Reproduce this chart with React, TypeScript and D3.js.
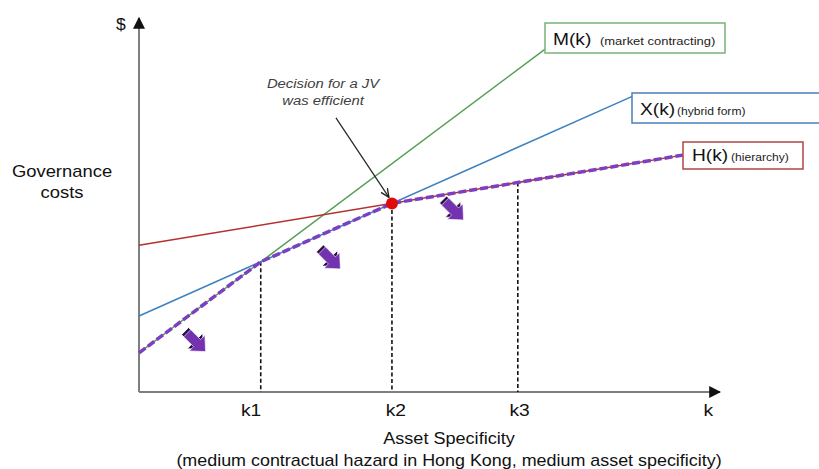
import * as d3 from "d3";

// cost curves: value at k=0 and at the end of each drawn line (x in asset-specificity units)
const curveNames = ["M", "X", "H"];
const curveStart = [1.04, 2.02, 3.9];
const curveEndX = [6.99, 8.5, 9.36];
const curveEndY = [9.12, 7.87, 6.3];

const k3Value = 6.52;
const tickLabels = ["k1", "k2", "k3", "k"];
const tickAt = [1.93, 4.42, 6.55, 9.8];

// purple "shift down" arrows
const shiftX = [1.0, 3.32, 5.44];
const shiftY = [1.3, 3.5, 4.8];

const note = ["Decision for a JV", "was efficient"];
const noteFrom = [3.39, 7.29];

const W = 819;
const H = 469;
const FONT = "Liberation Sans, Arial, sans-serif";

// text that is a little wider than the font, like the original slide
function T({ x, y, size, sx = 1.15, anchor = "start", children, italic = false, fill = "#111" }: any) {
  return (
    <g transform={`translate(${x},${y}) scale(${sx},1)`}>
      <text textAnchor={anchor} fontSize={size} fontStyle={italic ? "italic" : "normal"} fill={fill}>
        {children}
      </text>
    </g>
  );
}

export default function App() {
  const x = d3.scaleLinear([0, 10], [139, 720]);
  const y = d3.scaleLinear([0, 10], [392, 16]);

  const slope = curveNames.map((_, i) => (curveEndY[i] - curveStart[i]) / curveEndX[i]);
  const val = (i: number, k: number) => curveStart[i] + slope[i] * k;
  const k1 = (curveStart[1] - curveStart[0]) / (slope[0] - slope[1]);
  const k2 = (curveStart[2] - curveStart[1]) / (slope[1] - slope[2]);

  const line = d3.line<[number, number]>().x((d) => x(d[0])).y((d) => y(d[1]));

  const colors = ["#559e55", "#3f80be", "#b3312f"];
  const envelope: [number, number][] = [
    [0, val(0, 0)],
    [k1, val(0, k1)],
    [k2, val(1, k2)],
    [curveEndX[2], val(2, curveEndX[2])],
  ];

  const arrowPath = "M-14,-5 L0,-5 L0,-11 L12,0 L0,11 L0,5 L-14,5 Z";

  const dot = [x(k2), y(val(1, k2))];
  const nf = [x(noteFrom[0]), y(noteFrom[1])];

  return (
    <svg width={W} height={H} style={{ position: "absolute", left: 0, top: 0 }} fontFamily={FONT}>
      <defs>
        <marker id="ah" viewBox="0 0 10 10" refX="9" refY="5" markerWidth="6" markerHeight="6" orient="auto">
          <path d="M0,0 L10,5 L0,10 Z" fill="#111" />
        </marker>
        <marker id="nh" viewBox="0 0 10 10" refX="9" refY="5" markerWidth="8" markerHeight="8" orient="auto">
          <path d="M0,1 L9,5 L0,9" fill="none" stroke="#222" strokeWidth="1.4" />
        </marker>
      </defs>
      <rect width={W} height={H} fill="#fff" />

      {/* axes */}
      <line x1={x(0)} y1={y(0)} x2={x(0)} y2={y(10) + 2} stroke="#7f7f7f" strokeWidth={2} markerEnd="url(#ah)" />
      <line x1={x(0)} y1={y(0)} x2={x(10)} y2={y(0)} stroke="#7f7f7f" strokeWidth={2} markerEnd="url(#ah)" />

      {/* dashed drop lines */}
      {[k1, k2, k3Value].map((k, i) => (
        <line
          key={i}
          x1={x(k)}
          x2={x(k)}
          y1={y(val(i, k))}
          y2={y(0)}
          stroke="#111"
          strokeWidth={1.6}
          strokeDasharray="4,2.5"
        />
      ))}

      {/* curves */}
      {curveNames.map((n, i) => (
        <path
          key={n}
          d={line([
            [0, curveStart[i]],
            [curveEndX[i], curveEndY[i]],
          ]) ?? ""}
          stroke={colors[i]}
          strokeWidth={1.5}
          fill="none"
        />
      ))}

      {/* efficient envelope */}
      <path d={line(envelope) ?? ""} stroke="#7b3fbf" strokeWidth={3.5} strokeDasharray="8,3" fill="none" />

      {/* shift arrows */}
      {shiftX.map((sx, i) => (
        <g key={i} transform={`translate(${x(sx)},${y(shiftY[i])}) rotate(45)`}>
          <path d={arrowPath} transform="translate(-3,0)" fill="#2a0d45" stroke="#fff" strokeWidth={0.8} />
          <path d={arrowPath} fill="#7332b0" stroke="#fff" strokeWidth={0.6} />
        </g>
      ))}

      {/* annotation */}
      <line x1={nf[0]} y1={nf[1]} x2={dot[0] - 3} y2={dot[1] - 6} stroke="#222" strokeWidth={1.2} markerEnd="url(#nh)" />
      <circle cx={dot[0]} cy={dot[1]} r={6} fill="#e00a0a" />
      {note.map((t, i) => (
        <T key={i} x={323} y={88 + i * 17} size={13.5} sx={1.1} anchor="middle" italic fill="#404040">
          {t}
        </T>
      ))}

      {/* label boxes */}
      <g>
        <rect x={545} y={23} width={180} height={30} fill="#fff" stroke="#79b279" strokeWidth={1.5} />
        <T x={553} y={45} size={16} sx={1.2}>M(k)</T>
        <T x={600} y={45} size={11} sx={1.18} fill="#222">(market contracting)</T>
      </g>
      <g>
        <rect x={632} y={93} width={190} height={30} fill="#fff" stroke="#4a7ebb" strokeWidth={1.5} />
        <T x={640} y={115} size={16} sx={1.2}>X(k)</T>
        <T x={677} y={115} size={11} sx={1.1} fill="#222">(hybrid form)</T>
      </g>
      <g>
        <rect x={683} y={142} width={120} height={27} fill="#fff" stroke="#b04545" strokeWidth={1.5} />
        <T x={692} y={161} size={16} sx={1.2}>H(k)</T>
        <T x={731} y={161} size={11} sx={1.1} fill="#222">(hierarchy)</T>
      </g>

      {/* axis labels */}
      {tickLabels.map((t, i) => (
        <T key={t} x={x(tickAt[i])} y={416} size={16} sx={1.2} anchor="middle">
          {t}
        </T>
      ))}
      <T x={121} y={30} size={16} sx={1.1} anchor="middle">$</T>
      <T x={62} y={177} size={16} sx={1.15} anchor="middle">Governance</T>
      <T x={62} y={198} size={16} sx={1.15} anchor="middle">costs</T>
      <T x={449} y={444} size={16} sx={1.13} anchor="middle">Asset Specificity</T>
      <T x={449} y={466} size={16} sx={1.12} anchor="middle">
        (medium contractual hazard in Hong Kong, medium asset specificity)
      </T>
    </svg>
  );
}
